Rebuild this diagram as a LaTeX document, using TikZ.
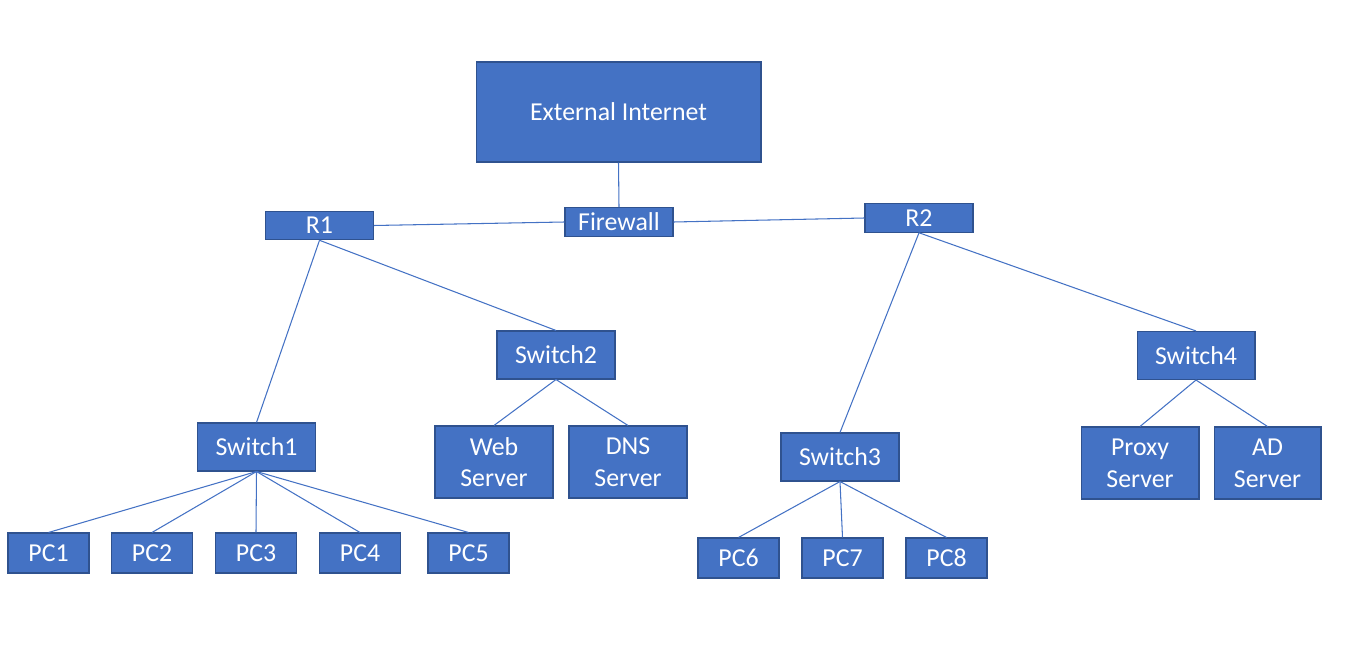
\documentclass[tikz,border=0pt]{standalone}
\usepackage{fontspec}
\setmainfont{Carlito}
\definecolor{boxblue}{HTML}{4472C4}
\definecolor{boxedge}{HTML}{2F528F}
\tikzset{
 netbox/.style={draw=boxedge, fill=boxblue, text=white, inner sep=0, line width=0.6pt,
  font=\fontsize{14.7}{18}\selectfont, align=center},
 pcbox/.style={netbox, minimum width=1.62cm, minimum height=0.8cm},
 switchbox/.style={netbox, minimum width=2.36cm, minimum height=0.96cm},
 serverbox/.style={netbox, minimum width=2.36cm, minimum height=1.44cm},
 routerbox/.style={netbox, minimum width=2.15cm, minimum height=0.57cm},
 link/.style={boxblue, line width=0.6pt}
}
\begin{document}
\begin{tikzpicture} [x=0.02cm, y=-0.02cm]
\useasboundingbox (0,0) rectangle (1348,672);
% internet, firewall and routers
\node[netbox, minimum width=5.7cm, minimum height=2cm] (ext) at (618.5,112) {External Internet};
\node[routerbox, minimum width=2.16cm] (fw) at (619,222) {Firewall};
\node[routerbox] (r1) at (319.5,225.5) {R1};
\node[routerbox, minimum width=2.16cm] (r2) at (919,218) {R2};
% switches
\node[switchbox] (sw1) at (256.5,447) {Switch1};
\node[switchbox] (sw2) at (556,355) {Switch2};
\node[switchbox] (sw3) at (840,457) {Switch3};
\node[switchbox] (sw4) at (1196,355.5) {Switch4};
% servers
\node[serverbox] (web) at (494,462) {Web\\Server};
\node[serverbox] (dns) at (628,462) {DNS\\Server};
\node[serverbox] (proxy) at (1140,463) {Proxy\\Server};
\node[serverbox, minimum width=2.14cm] (ad) at (1267.5,463) {AD\\Server};
% pcs
\foreach \i/\x in {1/48.5, 2/152, 3/256, 4/360, 5/468.5}
 \node[pcbox] (pc\i) at (\x,553) {PC\i};
\foreach \i/\x in {6/738.5, 7/842.5, 8/946.5}
 \node[pcbox] (pc\i) at (\x,558) {PC\i};
% links
\draw[link] (ext.south) -- (fw.north);
\draw[link] (fw.west) -- (r1.east);
\draw[link] (fw.east) -- (r2.west);
\draw[link] (r1.south) -- (sw1.north);
\draw[link] (r1.south) -- (sw2.north);
\draw[link] (r2.south) -- (sw3.north);
\draw[link] (r2.south) -- (sw4.north);
\draw[link] (sw2.south) -- (web.north);
\draw[link] (sw2.south) -- (dns.north);
\draw[link] (sw4.south) -- (proxy.north);
\draw[link] (sw4.south) -- (ad.north);
\foreach \i in {1,...,5}
 \draw[link] (sw1.south) -- (pc\i.north);
\foreach \i in {6,7,8}
 \draw[link] (sw3.south) -- (pc\i.north);
\end{tikzpicture}
\end{document}
